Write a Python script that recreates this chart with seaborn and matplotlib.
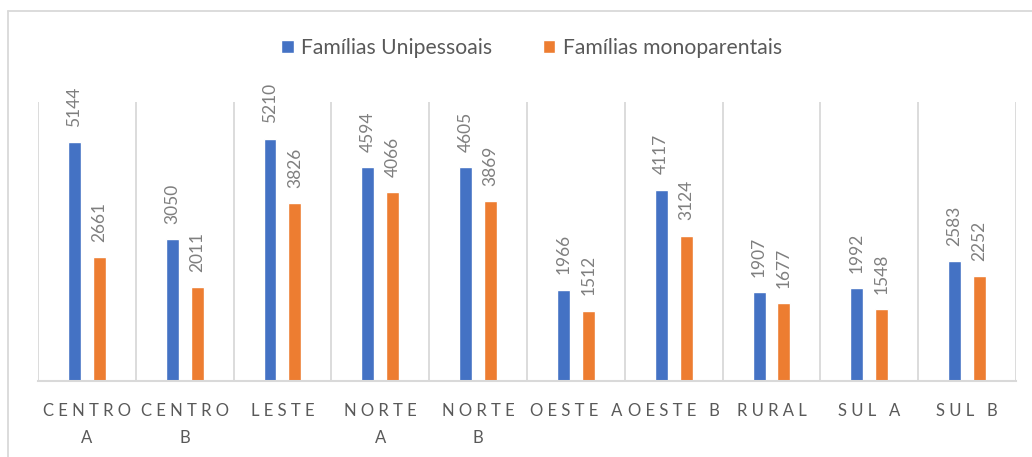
import pandas as pd
import matplotlib.pyplot as plt
from matplotlib.lines import Line2D
import seaborn as sns

# Data
categories = ["CENTRO A", "CENTRO B", "LESTE", "NORTE A", "NORTE B",
              "OESTE A", "OESTE B", "RURAL", "SUL A", "SUL B"]
tick_labels = ["CENTRO\nA", "CENTRO\nB", "LESTE", "NORTE\nA", "NORTE\nB",
               "OESTE A", "OESTE B", "RURAL", "SUL A", "SUL B"]
unipessoais = [5144, 3050, 5210, 4594, 4605, 1966, 4117, 1907, 1992, 2583]
monoparentais = [2661, 2011, 3826, 4066, 3869, 1512, 3124, 1677, 1548, 2252]
series_names = ["Famílias Unipessoais", "Famílias monoparentais"]

df = pd.DataFrame({
    "area": categories * 2,
    "valor": unipessoais + monoparentais,
    "serie": [series_names[0]] * len(categories) + [series_names[1]] * len(categories),
})

sns.set_style("white")
plt.rcParams["font.family"] = ["Lato", "DejaVu Sans"]

fig = plt.figure(figsize=(10.32, 4.57), dpi=100)
ax = fig.add_axes([0.0368, 0.1663, 0.9477, 0.6105])

sns.barplot(data=df, x="area", y="valor", hue="serie", order=categories,
            palette=["#4472C4", "#ED7D31"], saturation=1, width=0.51, gap=0.48, ax=ax)

# rotated data labels
for cont in ax.containers:
    ax.bar_label(cont, padding=11, rotation=90, color="#7F7F7F", fontsize=12.5)

ax.set_ylim(0, 6000)
ax.set_xlim(-0.5, len(categories) - 0.5)
ax.set_yticks([])
ax.set_xlabel("")
ax.set_ylabel("")

# category separators
ax.set_xticks([i - 0.5 for i in range(len(categories) + 1)], minor=True)
ax.grid(True, which="minor", axis="x", color="#D9D9D9", linewidth=1.3)
ax.tick_params(axis="x", which="both", length=0, pad=16)


def spaced(lbl):
    return "\n".join(" ".join(line) for line in lbl.split("\n"))


ax.set_xticks(range(len(categories)))
ax.set_xticklabels([spaced(t) for t in tick_labels], fontsize=12,
                   color="#595959", linespacing=1.85)

for side in ["left", "right", "top"]:
    ax.spines[side].set_visible(False)
ax.spines["bottom"].set_color("#D9D9D9")
ax.spines["bottom"].set_linewidth(1.5)

# legend
handles, labels = ax.get_legend_handles_labels()
ax.legend_.remove()
fig.legend(handles, labels, loc="center", bbox_to_anchor=(0.515, 0.895), ncol=2,
           frameon=False, fontsize=15.2, labelcolor="#595959",
           handlelength=0.6, handleheight=0.6, handletextpad=0.35, columnspacing=2.4)

# chart border
fig.add_artist(Line2D([8 / 1032, 1.0], [1 - 11 / 457] * 2, color="#D9D9D9", linewidth=1.3))
fig.add_artist(Line2D([8 / 1032] * 2, [0.0, 1 - 11 / 457], color="#D9D9D9", linewidth=1.3))

fig.savefig("out.png", dpi=100)
